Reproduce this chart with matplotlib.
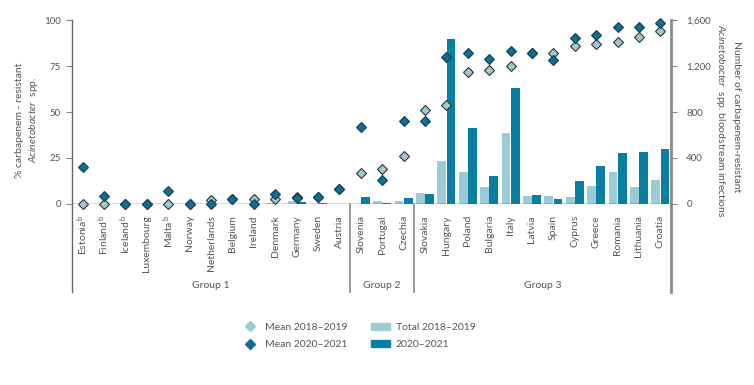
import matplotlib
matplotlib.use("Agg")
import matplotlib.pyplot as plt
import numpy as np
from matplotlib.lines import Line2D
from matplotlib.patches import Patch

plt.rcParams["font.family"] = ["Lato", "DejaVu Sans"]
plt.rcParams["mathtext.fontset"] = "custom"
plt.rcParams["mathtext.rm"] = "Lato"
plt.rcParams["mathtext.it"] = "Lato:italic"

countries = [
    "Estonia$^{\\mathrm{\\,b}}$", "Finland$^{\\mathrm{\\,b}}$", "Iceland$^{\\mathrm{\\,b}}$",
    "Luxembourg", "Malta$^{\\mathrm{\\,b}}$", "Norway", "Netherlands", "Belgium",
    "Ireland", "Denmark", "Germany", "Sweden", "Austria",
    "Slovenia", "Portugal", "Czechia",
    "Slovakia", "Hungary", "Poland", "Bulgaria", "Italy", "Latvia", "Spain",
    "Cyprus", "Greece", "Romania", "Lithuania", "Croatia",
]
groups = ["Group 1", "Group 2", "Group 3"]
group_sizes = [13, 3, 12]

# % carbapenem-resistant (left axis)
mean_1819 = [0, 0, 0, 0, 0, 0, 2, 2.5, 2.5, 2.5, 4, 4, 8,
             17, 19, 26,
             51, 54, 72, 73, 75, 82, 82, 86, 87, 88, 91, 94]
mean_2021 = [20, 4.5, 0, 0, 7, 0, 0, 2.7, 0, 5.4, 3, 4, 8,
             42, 13, 45,
             45, 80, 82, 79, 83, 82, 78, 90, 92, 96, 96, 98.5]

# number of bloodstream infections (right axis)
total_1819 = [0, 0, 0, 0, 0, 0, 1, 1, 1, 6, 24, 2, 3,
              3, 23, 26,
              97, 374, 281, 150, 617, 67, 69, 61, 157, 278, 150, 209]
total_2021 = [0, 0, 0, 0, 0, 0, 1, 1, 1, 3, 15, 5, 3,
              63, 12, 52,
              87, 1437, 658, 243, 1011, 81, 46, 200, 330, 441, 452, 481]

LIGHT = "#9acbd6"
DARK = "#087ea2"
DIA_LIGHT = "#98cbd5"
DIA_DARK = "#0a7096"
TXT = "#555555"
GREY = "#8a8a8a"

fig = plt.figure(figsize=(7.54, 3.85), dpi=100)
ax2 = fig.add_axes([72 / 754, 1 - 204 / 385, (671 - 72) / 754, 184 / 385])
ax = ax2.twinx()
ax.yaxis.tick_left()
ax.yaxis.set_label_position("left")
ax2.yaxis.tick_right()
ax.set_zorder(ax2.get_zorder() + 1)
ax.patch.set_visible(False)

x = np.arange(len(countries))
w = 0.41
ax2.bar(x - w / 2 - 0.01, total_1819, w, color=LIGHT, edgecolor="none")
ax2.bar(x + w / 2 + 0.01, total_2021, w, color=DARK, edgecolor="none")
ax2.set_ylim(0, 1600)
ax2.set_yticks([0, 400, 800, 1200, 1600])
ax2.set_yticklabels(["0", "400", "800", "1,200", "1,600"])

ax.plot(x, mean_1819, "D", ms=4.6, mfc=DIA_LIGHT, mec="#333333", mew=0.8,
        clip_on=False, zorder=5)
ax.plot(x, mean_2021, "D", ms=4.6, mfc=DIA_DARK, mec="#1e3a48", mew=0.8,
        clip_on=False, zorder=6)
ax.set_ylim(0, 100)
ax.set_yticks([0, 25, 50, 75, 100])
ax2.set_xlim(-0.5, len(countries) - 0.5)

for a in (ax, ax2):
    for s in a.spines.values():
        s.set_visible(False)
    a.tick_params(axis="y", colors=GREY, labelcolor=TXT, labelsize=7, length=4, width=0.8)
ax.tick_params(axis="y", pad=4)
ax2.tick_params(axis="y", pad=7)

ax2.set_xticks(x)
ax2.set_xticklabels(countries, rotation=90, fontsize=7.5, color=TXT)
ax2.tick_params(axis="x", length=0, pad=8)

# axis lines
ax.axhline(0, color="#555555", lw=1, zorder=2)
ax.plot([-0.5, -0.5], [1, -0.48], transform=ax.get_xaxis_transform(),
        color="#666666", lw=1, clip_on=False)
ax.plot([27.5, 27.5], [1, -0.48], transform=ax.get_xaxis_transform(),
        color=GREY, lw=2, clip_on=False, zorder=1)

start = -0.5
for g, n in zip(groups, group_sizes):
    end = start + n
    if end < 27.5:
        ax.plot([end, end], [0, -0.48], transform=ax.get_xaxis_transform(),
                color=GREY, lw=1.2, clip_on=False)
    ax.text((start + end) / 2, -0.445, g, transform=ax.get_xaxis_transform(),
            ha="center", va="center", fontsize=7.5, color=TXT)
    start = end

# axis titles
fig.text(20 / 754, 1 - 120 / 385, "% carbapenem - resistant", rotation=90,
         ha="center", va="center", fontsize=7.5, color=TXT)
fig.text(34 / 754, 1 - 120 / 385, "$\\it{Acinetobacter}$  spp.", rotation=90,
         ha="center", va="center", fontsize=7.5, color=TXT)
fig.text(737 / 754, 1 - 117 / 385, "Number of carbapenem-resistant", rotation=270,
         ha="center", va="center", fontsize=7.5, color=TXT)
fig.text(721 / 754, 1 - 121 / 385,
         "$\\it{Acinetobacter}$  spp. bloodstream infections", rotation=270,
         ha="center", va="center", fontsize=7.5, color=TXT)

handles = [
    Line2D([], [], marker="D", ls="none", ms=5.5, mfc=DIA_LIGHT, mec=DIA_LIGHT),
    Line2D([], [], marker="D", ls="none", ms=5.5, mfc=DIA_DARK, mec=DIA_DARK),
    Patch(color=LIGHT),
    Patch(color=DARK),
]
labels = ["Mean 2018–2019", "Mean 2020–2021", "Total 2018–2019", "2020–2021"]
fig.legend(handles, labels, ncol=2, loc="center", bbox_to_anchor=(358 / 754, 1 - 336 / 385),
           frameon=False, fontsize=7.5, labelcolor=TXT, handlelength=1.8,
           handleheight=0.7, columnspacing=2.2, labelspacing=0.8, handletextpad=0.6)

fig.savefig("out.png", dpi=100)
